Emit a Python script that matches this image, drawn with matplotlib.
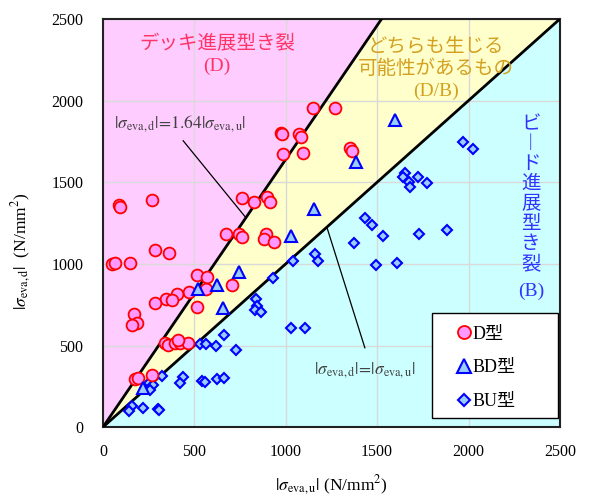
import numpy as np
import matplotlib
matplotlib.use('Agg')
import matplotlib.pyplot as plt
from matplotlib.patches import Rectangle

plt.rcParams['font.family'] = ['Liberation Serif', 'Noto Sans CJK JP']
plt.rcParams['mathtext.fontset'] = 'stix'

# D型 (deck-propagating cracks)
d_u = [48, 66, 148, 284, 363, 266, 88, 95, 671, 743, 759, 890, 879, 935,
       512, 567, 472, 403, 345, 376, 284, 563, 512, 707, 171, 188, 160,
       339, 357, 394, 421, 467, 412, 175, 193, 266, 1147, 1271, 972, 978,
       1074, 1083, 986, 1096, 1351, 1360, 762, 826, 899, 914]
d_d = [997, 1007, 1003, 1085, 1068, 1390, 1358, 1348, 1185, 1180, 1163, 1182, 1154, 1134,
       931, 921, 829, 813, 786, 778, 762, 844, 737, 870, 690, 635, 623,
       517, 502, 517, 513, 513, 533, 292, 298, 319, 1953, 1953, 1803, 1793,
       1793, 1775, 1673, 1677, 1708, 1691, 1405, 1377, 1411, 1377]

# BD型
bd_u = [1600, 1384, 1154, 1027, 744, 622, 522, 655, 220]
bd_d = [1881, 1622, 1336, 1170, 948, 870, 844, 731, 240]

# BU型 (bead-propagating cracks)
bu_u = [1971, 2022, 1652, 1643, 1676, 1679, 1725, 1771, 1433, 1470, 1533, 1729, 1885,
        1495, 1611, 1373, 1162, 1175, 1040, 932, 835, 841, 832, 863, 1028, 1103, 730,
        532, 565, 616, 663, 321, 436, 421, 544, 556, 622, 660, 253, 275, 257,
        157, 142, 220, 300, 308]
bu_d = [1748, 1702, 1558, 1534, 1503, 1472, 1530, 1493, 1279, 1238, 1170, 1180, 1209,
        993, 1003, 1129, 1063, 1018, 1019, 916, 782, 740, 717, 704, 607, 610, 472,
        509, 511, 500, 564, 314, 308, 271, 285, 278, 296, 298, 268, 257, 227,
        127, 101, 118, 112, 106]

slope = 1.64
lim = 2500

fig = plt.figure(figsize=(5.95, 4.99), dpi=100)
ax = fig.add_axes([0.173, 0.144, 0.768, 0.818])

# shaded regions
xs = np.linspace(0, lim, 501)
ax.fill_between(xs, 0, xs, color='#CCFFFF', lw=0)
ax.fill_between(xs, xs, np.minimum(slope * xs, lim), color='#FFFFCC', lw=0)
ax.fill_between(xs, np.minimum(slope * xs, lim), lim, color='#FFCCFF', lw=0)

ax.plot([0, lim], [0, lim], color='black', lw=2, zorder=3)
ax.plot([0, lim / slope], [0, lim], color='black', lw=2, zorder=3)

ax.plot(d_u, d_d, 'o', ms=8.5, mfc='#FF99FF', mec='#FF0000', mew=1.3, ls='none',
        zorder=5, label='D型')
ax.plot(bd_u, bd_d, '^', ms=9, mfc='#99CCFF', mec='#0000FF', mew=1.5, ls='none',
        zorder=5, label='BD型')
ax.plot(bu_u, bu_d, 'D', ms=5.5, mfc='#99CCFF', mec='#0000FF', mew=1.5, ls='none',
        zorder=4, label='BU型')

ax.set_xlim(0, lim)
ax.set_ylim(0, lim)
ax.set_xticks(np.arange(0, 2501, 500))
ax.set_yticks(np.arange(0, 2501, 500))
ax.grid(True, color='#D9D9D9', lw=1)
ax.tick_params(length=0, labelsize=11.5)
ax.tick_params(axis='x', pad=12)
ax.tick_params(axis='y', pad=14)
for s in ax.spines.values():
    s.set_linewidth(1.5)
    s.set_color('#222222')

ax.set_xlabel(r'$|\sigma_{\mathrm{eva,u}}|$ (N/mm$^2$)', fontsize=12.5)
ax.set_ylabel(r'$|\sigma_{\mathrm{eva,d}}|$  (N/mm$^2$)', fontsize=12.5)
ax.xaxis.set_label_coords(0.5, -0.113)
ax.yaxis.set_label_coords(-0.152, 0.43)

# region captions
ax.text(625, 2280, 'デッキ進展型き裂\n(D)', color='#FF3366', fontsize=14,
        ha='center', va='center', linespacing=1.3, zorder=6)
ax.text(1820, 2195, 'どちらも生じる\n可能性があるもの\n(D/B)', color='#D4A020',
        fontsize=14, ha='center', va='center', linespacing=1.3, zorder=6)
ax.text(2341, 1905, '\n'.join('ビ︱ド進展型き裂'), color='#3333FF',
        fontsize=14, ha='center', va='top', linespacing=1.22, zorder=6)
ax.text(2341, 830, '(B)', color='#3333FF', fontsize=14, ha='center', va='center', zorder=6)

# boundary line labels
ax.text(421, 1861, r'$|\sigma_{\mathrm{eva,d}}|\!=\!1.64|\sigma_{\mathrm{eva,u}}|$',
        color='#404040', fontsize=12.5, ha='center', va='center', zorder=6)
ax.plot([439, 782], [1754, 1283], color='black', lw=0.9, zorder=6)
ax.text(1433, 349, r'$|\sigma_{\mathrm{eva,d}}|\!=\!|\sigma_{\mathrm{eva,u}}|$',
        color='#404040', fontsize=12.5, ha='center', va='center', zorder=6)
ax.plot([1225, 1433], [1225, 486], color='black', lw=0.9, zorder=6)

# legend box drawn separately so it can be wider than its entries
ax.add_patch(Rectangle((0.72, 0.022), 0.276, 0.257, transform=ax.transAxes,
                       fc='white', ec='black', lw=1.0, zorder=9))
leg = ax.legend(loc='upper left', bbox_to_anchor=(0.766, 0.249), fontsize=13,
                frameon=False, borderpad=0, borderaxespad=0, labelspacing=0.93,
                handlelength=1.2, handletextpad=-0.1, markerscale=1.1)
leg.set_zorder(10)

fig.savefig('out.png', dpi=100)
